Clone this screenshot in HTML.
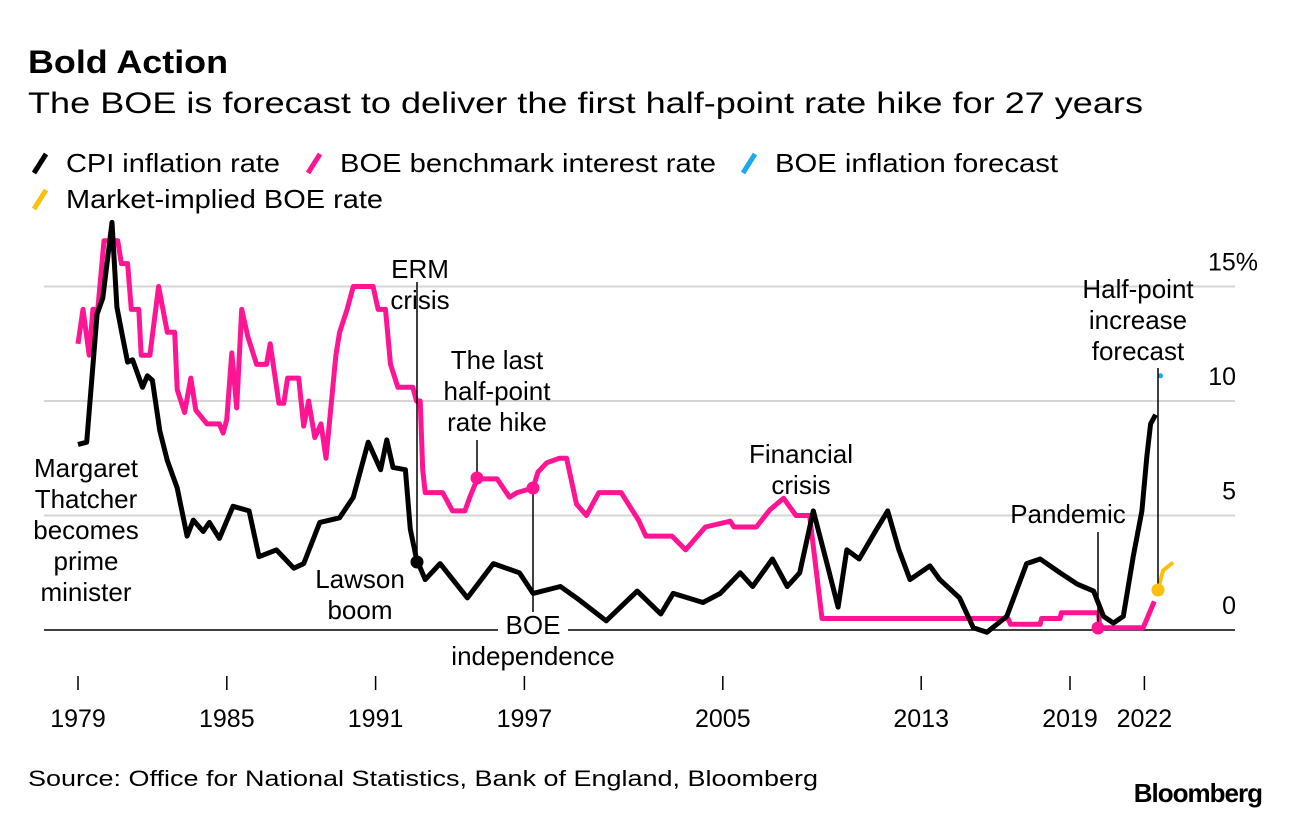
<!DOCTYPE html>
<html><head><meta charset="utf-8"><style>
body{margin:0;background:#fff;}
svg text{font-family:"Liberation Sans",sans-serif;fill:#000;}
</style></head><body>
<svg id="chart" width="1289" height="818" viewBox="0 0 1289 818" xmlns="http://www.w3.org/2000/svg">
<text x="28" y="73" font-size="32" font-weight="bold" textLength="200" lengthAdjust="spacingAndGlyphs">Bold Action</text>
<text x="28" y="113" font-size="30" textLength="1115" lengthAdjust="spacingAndGlyphs">The BOE is forecast to deliver the first half-point rate hike for 27 years</text>
<g font-size="26">
 <g><line x1="34" y1="173" x2="46" y2="154" stroke="#000" stroke-width="5"/><text x="66" y="172" textLength="214" lengthAdjust="spacingAndGlyphs">CPI inflation rate</text></g>
 <g><line x1="308" y1="173" x2="320" y2="154" stroke="#ff1493" stroke-width="5"/><text x="340" y="172" textLength="376" lengthAdjust="spacingAndGlyphs">BOE benchmark interest rate</text></g>
 <g><line x1="743" y1="173" x2="755" y2="154" stroke="#1fa8f0" stroke-width="5"/><text x="775" y="172" textLength="283" lengthAdjust="spacingAndGlyphs">BOE inflation forecast</text></g>
 <g><line x1="34" y1="209" x2="46" y2="190" stroke="#fbbf0d" stroke-width="5"/><text x="66" y="208" textLength="317" lengthAdjust="spacingAndGlyphs">Market-implied BOE rate</text></g>
</g>
<g id="grid"></g>
<g id="xaxis"></g>
<g id="series"></g>
<g id="annot" font-size="26" text-anchor="middle"></g>
<text x="28" y="786" font-size="22" textLength="790" lengthAdjust="spacingAndGlyphs">Source: Office for National Statistics, Bank of England, Bloomberg</text>
<text x="1262" y="802" font-size="26" font-weight="bold" text-anchor="end" letter-spacing="-1">Bloomberg</text>
</svg>
<script>
const yTicks=[0,5,10,15];
const yTickLabels=["0","5","10","15%"];
const xTicks=[1979,1985,1991,1997,2005,2013,2019,2022];
const cpiYears=[1979.0,1979.35,1979.56,1979.77,1980.0,1980.37,1980.57,1980.8,1981.0,1981.2,1981.6,1981.8,1982.0,1982.3,1982.6,1983.0,1983.4,1983.65,1984.05,1984.3,1984.7,1985.25,1985.9,1986.3,1987.0,1987.7,1988.1,1988.75,1989.55,1990.1,1990.7,1991.2,1991.45,1991.7,1992.2,1992.4,1992.65,1993.0,1993.6,1994.7,1995.75,1996.8,1997.35,1998.45,1999.1,2000.3,2001.55,2002.5,2003.0,2004.2,2004.9,2005.7,2006.2,2007.0,2007.6,2008.1,2008.65,2009.2,2009.65,2010.0,2010.5,2011.2,2011.65,2012.1,2012.55,2013.35,2013.75,2014.55,2015.1,2015.65,2016.45,2017.25,2017.8,2018.6,2019.3,2019.95,2020.35,2020.75,2021.15,2021.55,2021.9,2022.1,2022.25,2022.45];
const cpiValues=[8.1,8.2,11.0,13.8,14.5,17.8,14.1,12.8,11.7,11.8,10.6,11.1,10.9,8.7,7.4,6.2,4.1,4.8,4.3,4.7,4.0,5.4,5.2,3.2,3.5,2.7,2.9,4.7,4.9,5.8,8.2,7.0,8.3,7.1,7.0,4.4,3.1,2.2,2.9,1.4,2.9,2.5,1.6,1.9,1.4,0.4,1.7,0.7,1.6,1.2,1.6,2.5,1.9,3.1,1.9,2.5,5.2,2.9,1.0,3.5,3.1,4.4,5.2,3.5,2.2,2.8,2.2,1.4,0.1,-0.1,0.6,2.9,3.1,2.5,2.0,1.7,0.6,0.3,0.6,3.2,5.2,7.6,9.0,9.4];
const rateYears=[
1979.0,1979.2,1979.45,1979.6,1979.8,1980.05,1980.6,1980.75,1981.0,1981.15,
1981.45,1981.55,1981.9,1982.25,1982.6,1982.9,1983.0,1983.3,1983.55,1983.75,
1984.2,1984.7,1984.85,1985.0,1985.2,1985.4,1985.6,1985.85,1986.2,1986.6,
1986.75,1987.1,1987.3,1987.45,1987.9,1988.1,1988.3,1988.55,1988.8,1989.0,
1989.4,1989.55,1989.85,1990.1,1990.9,1991.1,1991.4,1991.6,1991.9,1992.5,
1992.65,1992.8,1992.9,1993.0,1993.7,1994.1,1994.6,1994.8,1995.1,1995.9,
1996.4,1996.7,1997.35,1997.55,1997.9,1998.4,1998.7,1999.1,1999.5,2000.0,
2000.9,2001.6,2001.9,2002.95,2003.5,2004.3,2005.3,2005.45,2006.35,2006.9,
2007.45,2007.95,2008.5,2009.0,2016.5,2016.6,2017.8,2017.85,2018.6,2018.65,
2020.15,2020.2,2021.95,2022.4];
const rateValues=[
12.5,14,12,14,14,17,17,16,16,14,
14,12,12,15,13,13,10.5,9.5,11,9.6,
9,9,8.6,9.2,12.1,9.7,14,12.8,11.6,11.6,
12.5,9.9,9.9,11,11,8.9,10,8.4,9,7.5,
12,13,14,15,15,14,14,11.6,10.6,10.6,
10,10,7,6,6,5.2,5.2,5.8,6.6,6.6,
5.8,6.0,6.2,6.9,7.3,7.5,7.5,5.5,5.0,6.0,
6.0,4.8,4.1,4.1,3.5,4.5,4.75,4.5,4.5,5.25,
5.75,5.0,5.0,0.5,0.5,0.25,0.25,0.5,0.5,0.75,
0.75,0.1,0.1,1.25];
const mktYears=[2022.55,2022.75,2023.1];
const mktValues=[1.75,2.6,2.9];
const fcYears=[2022.65];
const fcValues=[11.1];
</script>
<script>
const NS="http://www.w3.org/2000/svg";
function X(t){return 78+(t-1979)*24.8;}
function Y(v){return 630-v*22.9;}
function mk(tag,attrs,parent){const e=document.createElementNS(NS,tag);for(const k in attrs)e.setAttribute(k,attrs[k]);parent.appendChild(e);return e;}
const grid=document.getElementById('grid');
yTicks.forEach((v,i)=>{
  const l=mk('line',{x1:44,x2:1235,y1:Y(v),y2:Y(v),stroke:v===0?'#000':'#d6d6d6','stroke-width':v===0?1.5:2},grid);
  
  
  const t=mk('text',{x:1236,y:Y(v)-16,'font-size':25,'text-anchor':'end'},grid);
  
  
  t.textContent=yTickLabels[i];
  if(yTickLabels[i].indexOf('%')>=0){t.setAttribute('text-anchor','start');t.setAttribute('x',1208);}
});
const xa=document.getElementById('xaxis');
xTicks.forEach(y=>{
  const l=mk('line',{x1:X(y),x2:X(y),y1:676,y2:690,stroke:'#000','stroke-width':1.5},xa);
  
  
  const t=mk('text',{x:X(y),y:727,'font-size':25,'text-anchor':'middle'},xa);
  
  
  t.textContent=y;
});
const s=document.getElementById('series');
function path(xs,vs){let d='';xs.forEach((t,i)=>{d+=(i===0?'M':'L')+X(t).toFixed(1)+','+Y(vs[i]).toFixed(1);});return d;}
let p=mk('path',{d:path(rateYears,rateValues),fill:'none',stroke:'#ff1493','stroke-width':5,'stroke-linejoin':'round'},s);


p=mk('path',{d:path(cpiYears,cpiValues),fill:'none',stroke:'#000','stroke-width':5,'stroke-linejoin':'round'},s);


p=mk('path',{d:path(mktYears,mktValues),fill:'none',stroke:'#fbbf0d','stroke-width':4,'stroke-linecap':'round'},s);


fcYears.forEach((t,i)=>{const c=mk('circle',{cx:X(t),cy:Y(fcValues[i]),r:2.5,fill:'#1fa8f0'},s);

});
const an=document.getElementById('annot');
function ann(name,lines,cx,y0,lx,ly1,ly2,dotY,dotColor){
  const g=mk('g',{},an);
  
  
  if(lx!==null){mk('line',{x1:lx,x2:lx,y1:ly1,y2:ly2,stroke:'#000','stroke-width':1.5},g);}
  if(dotY!==null){mk('circle',{cx:lx,cy:dotY,r:6.5,fill:dotColor},g);}
  lines.forEach((L,i)=>{const t=mk('text',{x:cx,y:y0+i*31},g);t.textContent=L;});
}
ann('annotation-thatcher',['Margaret','Thatcher','becomes','prime','minister'],86,477,null,0,0,null);
ann('annotation-erm-crisis',['ERM','crisis'],420,278,417,282,562,562,'#000');
ann('annotation-lawson-boom',['Lawson','boom'],360,588,null,0,0,null);
ann('annotation-last-half-point',['The last','half-point','rate hike'],497,369,477,440,478,478,'#ff1493');
const bg=mk('rect',{x:498,y:612,width:70,height:26,fill:'#fff'},an);


ann('annotation-boe-independence',['BOE','independence'],533,634,533,488,612,488,'#ff1493');
ann('annotation-financial-crisis',['Financial','crisis'],801,463,null,0,0,null);
ann('annotation-pandemic',['Pandemic'],1068,523,1098,532,628,628,'#ff1493');
ann('annotation-half-point-forecast',['Half-point','increase','forecast'],1138,298,1158,368,590,590,'#fbbf0d');
</script>
</body></html>
